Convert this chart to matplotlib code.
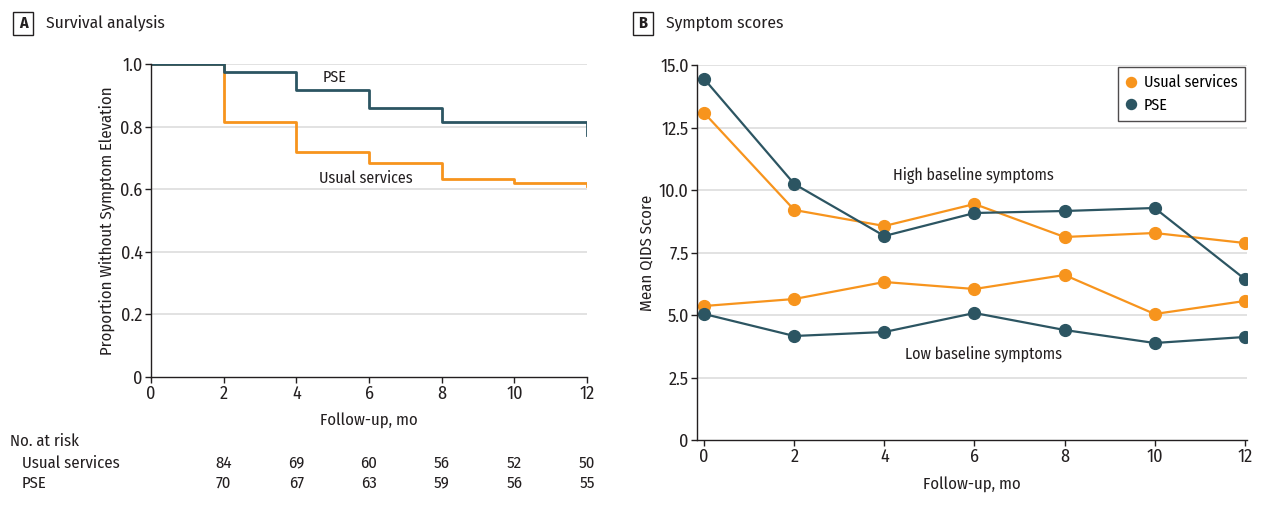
import matplotlib
matplotlib.use("Agg")
import matplotlib.pyplot as plt
from matplotlib.patches import Rectangle
import matplotlib.font_manager as fm

names = {f.name for f in fm.fontManager.ttflist}
CANDS = ["Ubuntu Condensed", "Fira Sans Condensed", "PT Sans Narrow", "Roboto Condensed",
         "Open Sans Condensed", "Encode Sans Condensed", "Asap Condensed", "Liberation Sans Narrow"]
chosen = [c for c in CANDS if c in names]
FAM = (chosen[:1] or []) + ["DejaVu Sans"]
plt.rcParams["font.family"] = FAM

ORANGE = "#F7941D"
TEAL = "#2C5562"
GRID = "#DDDDDD"
TXT = "#231F20"

# Panel A data
km_times = [0, 2, 4, 6, 8, 10, 12]
km_usual = [1.0, 0.815, 0.719, 0.684, 0.633, 0.620, 0.610]
km_pse = [1.0, 0.974, 0.917, 0.859, 0.815, 0.815, 0.773]
risk_times = [2, 4, 6, 8, 10, 12]
risk_usual = [84, 69, 60, 56, 52, 50]
risk_pse = [70, 67, 63, 59, 56, 55]

# Panel B data
months = [0, 2, 4, 6, 8, 10, 12]
high_usual = [13.08, 9.2, 8.56, 9.44, 8.12, 8.28, 7.88]
high_pse = [14.44, 10.24, 8.16, 9.08, 9.16, 9.28, 6.44]
low_usual = [5.36, 5.64, 6.32, 6.04, 6.6, 5.04, 5.56]
low_pse = [5.04, 4.16, 4.32, 5.08, 4.4, 3.88, 4.12]

W, H = 1261, 508
fig = plt.figure(figsize=(W / 100, H / 100), dpi=100)

def px_ax(l, t, r, b):
    return fig.add_axes([l / W, 1 - b / H, (r - l) / W, (b - t) / H])

FS = 11.5
TFS = 13
LFS = 12

def style(ax):
    for s in ["top", "right"]:
        ax.spines[s].set_visible(False)
    for s in ["left", "bottom"]:
        ax.spines[s].set_color(TXT)
        ax.spines[s].set_linewidth(1.0)
    ax.tick_params(direction="out", length=4, width=1, colors=TXT, labelsize=TFS, pad=2)
    ax.set_axisbelow(True)

# ---- Panel A ----
axA = px_ax(151, 64, 587, 377)
style(axA)
axA.step(km_times, km_usual, where="post", color=ORANGE, lw=2)
axA.step(km_times, km_pse, where="post", color=TEAL, lw=2)
axA.set_xlim(0, 12)
axA.set_ylim(0, 1.0)
axA.set_xticks(range(0, 13, 2))
yt = [0, 0.2, 0.4, 0.6, 0.8, 1.0]
axA.set_yticks(yt)
axA.set_yticklabels(["0", "0.2", "0.4", "0.6", "0.8", "1.0"])
for v in yt[1:]:
    axA.axhline(v, color=GRID, lw=1.2, zorder=0)
axA.set_ylabel("Proportion Without Symptom Elevation", fontsize=LFS, color=TXT, labelpad=4)
axA.set_xlabel("Follow-up, mo", fontsize=LFS, color=TXT, labelpad=7)
axA.text(5.06, 0.958, "PSE", fontsize=FS, color=TXT, ha="center", va="center")
axA.text(5.9, 0.636, "Usual services", fontsize=FS, color=TXT, ha="center", va="center")

# risk table
RFS = 12
fig.text(10 / W, 1 - 441 / H, "No. at risk", fontsize=RFS, color=TXT, va="center")
fig.text(22 / W, 1 - 463 / H, "Usual services", fontsize=RFS, color=TXT, va="center")
fig.text(22 / W, 1 - 483 / H, "PSE", fontsize=RFS, color=TXT, va="center")
for t, u, p in zip(risk_times, risk_usual, risk_pse):
    xf = axA.transData.transform((t, 0))[0] / W
    fig.text(xf, 1 - 463 / H, str(u), fontsize=RFS, color=TXT, ha="center", va="center")
    fig.text(xf, 1 - 483 / H, str(p), fontsize=RFS, color=TXT, ha="center", va="center")

# ---- Panel B ----
axB = px_ax(697, 65, 1247, 440)
style(axB)
ms = 8.5
axB.plot(months, high_usual, "-o", color=ORANGE, lw=1.6, ms=ms, label="Usual services")
axB.plot(months, high_pse, "-o", color=TEAL, lw=1.6, ms=ms, label="PSE")
axB.plot(months, low_usual, "-o", color=ORANGE, lw=1.6, ms=ms)
axB.plot(months, low_pse, "-o", color=TEAL, lw=1.6, ms=ms)
axB.set_xlim(-0.16, 12.05)
axB.set_ylim(0, 15)
axB.set_xticks(range(0, 13, 2))
ytb = [0, 2.5, 5.0, 7.5, 10.0, 12.5, 15.0]
axB.set_yticks(ytb)
axB.set_yticklabels(["0", "2.5", "5.0", "7.5", "10.0", "12.5", "15.0"])
for v in ytb[1:]:
    axB.axhline(v, color=GRID, lw=1.2, zorder=0)
axB.set_ylabel("Mean QIDS Score", fontsize=LFS, color=TXT, labelpad=3)
axB.set_xlabel("Follow-up, mo", fontsize=LFS, color=TXT, labelpad=8)
axB.text(5.97, 10.6, "High baseline symptoms", fontsize=FS, color=TXT, ha="center", va="center")
axB.text(6.19, 3.44, "Low baseline symptoms", fontsize=FS, color=TXT, ha="center", va="center")
leg = axB.legend(loc="upper right", bbox_to_anchor=(1.0, 1.0), fontsize=FS, frameon=True,
                 fancybox=False, edgecolor=TXT, handlelength=0.6, handletextpad=0.5,
                 borderpad=0.5, labelspacing=0.4, borderaxespad=0.1, markerscale=0.85)
leg.get_frame().set_linewidth(1.0)
for h in leg.legend_handles:
    h.set_linestyle("none")

# panel titles
def panel_title(xl, letter, title):
    fig.patches.append(Rectangle((xl / W, 1 - 35 / H), 20 / W, 23 / H, transform=fig.transFigure,
                                 fill=False, edgecolor=TXT, lw=1.0))
    fig.text((xl + 10) / W, 1 - 23.5 / H, letter, fontsize=FS, fontweight="bold", color=TXT,
             ha="center", va="center")
    fig.text((xl + 33) / W, 1 - 23 / H, title, fontsize=12.5, color=TXT, va="center")

panel_title(13, "A", "Survival analysis")
panel_title(633, "B", "Symptom scores")

fig.savefig("out.png", dpi=100)
